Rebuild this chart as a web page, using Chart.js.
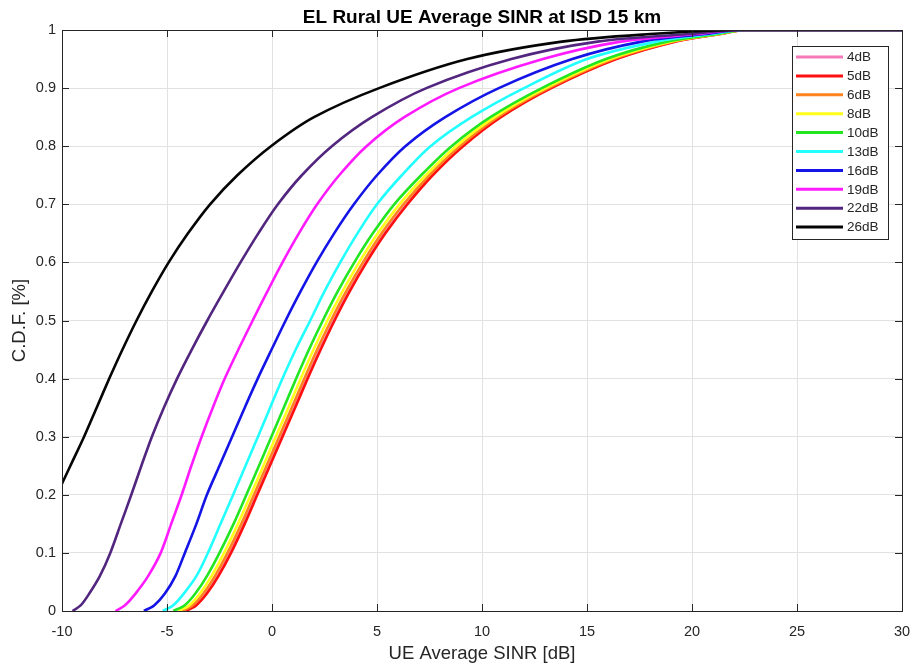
<!DOCTYPE html>
<html>
<head>
<meta charset="utf-8">
<title>EL Rural UE Average SINR at ISD 15 km</title>
<script src="https://cdn.jsdelivr.net/npm/chart.js@4.4.1/dist/chart.umd.min.js"></script>
<style>
  html, body { margin: 0; padding: 0; background: #fff; }
  #wrap { width: 913px; height: 665px; }
</style>
</head>
<body>
<div id="wrap"><canvas id="cdf" width="913" height="665"></canvas></div>
<script>
// CDF levels shared by every curve; each series gives the SINR (dB) reached at that level.
// The last entry keeps the curve at 1 out to the end of the axis.
const cdfLevels = [0, 0.01, 0.03, 0.06, 0.1, 0.15, 0.2, 0.25, 0.3, 0.35, 0.4, 0.45, 0.5,
                   0.55, 0.6, 0.65, 0.7, 0.75, 0.8, 0.85, 0.9, 0.95, 0.98, 0.993, 1, 1];

const sinr4dB  = [-4.15, -3.65, -3.15, -2.6, -2.0, -1.35, -0.75, -0.15, 0.45, 1.05, 1.65, 2.27, 2.93,
                  3.65, 4.45, 5.35, 6.4, 7.6, 9.05, 10.85, 13.25, 16.35, 19.15, 21.3, 22.5, 30];
const sinr5dB  = [-4.1, -3.6, -3.1, -2.55, -1.95, -1.3, -0.7, -0.1, 0.5, 1.1, 1.7, 2.32, 2.98,
                  3.7, 4.5, 5.4, 6.45, 7.65, 9.1, 10.9, 13.3, 16.4, 19.2, 21.35, 22.5, 30];
const sinr6dB  = [-4.28, -3.77, -3.27, -2.72, -2.12, -1.46, -0.86, -0.26, 0.34, 0.94, 1.54, 2.15, 2.81,
                  3.53, 4.33, 5.22, 6.26, 7.49, 8.94, 10.75, 13.17, 16.25, 19.08, 21.3, 22.5, 30];
const sinr8dB  = [-4.46, -3.93, -3.43, -2.88, -2.28, -1.62, -1.01, -0.41, 0.18, 0.78, 1.37, 1.98, 2.64,
                  3.36, 4.15, 5.04, 6.07, 7.32, 8.77, 10.6, 13.03, 16.1, 18.96, 21.25, 22.5, 30];
const sinr10dB = [-4.7, -4.15, -3.65, -3.1, -2.5, -1.83, -1.22, -0.62, -0.03, 0.56, 1.15, 1.76, 2.42,
                  3.13, 3.92, 4.8, 5.82, 7.1, 8.55, 10.4, 12.85, 15.9, 18.8, 21.2, 22.5, 30];
const sinr13dB = [-5.2, -4.7, -4.2, -3.6, -3.05, -2.45, -1.85, -1.26, -0.67, -0.09, 0.5, 1.13, 1.82,
                  2.5, 3.25, 4.07, 5.0, 6.18, 7.55, 9.5, 12.0, 15.0, 18.3, 20.9, 22.4, 30];
const sinr16dB = [-6.1, -5.6, -5.1, -4.6, -4.15, -3.6, -3.1, -2.5, -1.9, -1.3, -0.68, -0.02, 0.65,
                  1.36, 2.12, 2.96, 3.9, 5.0, 6.35, 8.25, 10.8, 14.3, 17.6, 20.6, 22.3, 30];
const sinr19dB = [-7.45, -7.0, -6.5, -5.9, -5.3, -4.8, -4.3, -3.84, -3.35, -2.82, -2.25, -1.6, -0.92,
                  -0.22, 0.5, 1.28, 2.15, 3.2, 4.5, 6.3, 8.9, 12.9, 16.6, 20.2, 22.2, 30];
const sinr22dB = [-9.5, -9.1, -8.7, -8.2, -7.7, -7.2, -6.7, -6.22, -5.72, -5.15, -4.52, -3.82, -3.08,
                  -2.3, -1.5, -0.65, 0.28, 1.42, 2.85, 4.75, 7.35, 11.4, 15.5, 19.8, 22.2, 30];
const sinr26dB = [null, null, null, null, null, null, -10.25, -9.6, -8.95, -8.35, -7.75, -7.12, -6.45,
                  -5.72, -4.92, -4.0, -2.95, -1.65, -0.05, 2.0, 5.1, 9.3, 13.8, 18.0, 22.0, 30];

const seriesLabels = ['4dB', '5dB', '6dB', '8dB', '10dB', '13dB', '16dB', '19dB', '22dB', '26dB'];
const seriesValues = [sinr4dB, sinr5dB, sinr6dB, sinr8dB, sinr10dB, sinr13dB, sinr16dB, sinr19dB, sinr22dB, sinr26dB];
const seriesColors = ['#f57ab9', '#ff1010', '#ff8420', '#ffff1a', '#22e622', '#22ffff', '#1414e6', '#ff1aff', '#52267f', '#050505'];

const xTicks = [-10, -5, 0, 5, 10, 15, 20, 25, 30];
const yTicks = [0, 0.1, 0.2, 0.3, 0.4, 0.5, 0.6, 0.7, 0.8, 0.9, 1];

const axisColor = '#262626';
const fontFamily = '"Liberation Sans", Arial, Helvetica, sans-serif';

// the 26 dB curve enters from the left edge, so its lowest levels are left out
const datasets = seriesLabels.map((label, i) => ({
  label,
  data: cdfLevels
    .map((p, k) => ({ x: seriesValues[i][k], y: p }))
    .filter(pt => pt.x !== null),
  borderColor: seriesColors[i],
  backgroundColor: seriesColors[i],
  borderWidth: 2.6,
  pointRadius: 0,
  tension: 0.3,
  clip: 0,
  order: seriesLabels.length - i   // later series sit on top
}));

// box around the plot with inward tick marks on all four sides
const boxTicks = {
  id: 'boxTicks',
  afterDatasetsDraw(chart) {
    const { ctx, chartArea: a, scales } = chart;
    const len = 7;
    ctx.save();
    ctx.strokeStyle = axisColor;
    ctx.lineWidth = 1;
    ctx.beginPath();
    xTicks.forEach(v => {
      const x = Math.round(scales.x.getPixelForValue(v)) + 0.5;
      ctx.moveTo(x, a.bottom); ctx.lineTo(x, a.bottom - len);
      ctx.moveTo(x, a.top); ctx.lineTo(x, a.top + len);
    });
    yTicks.forEach(v => {
      const y = Math.round(scales.y.getPixelForValue(v)) + 0.5;
      ctx.moveTo(a.left, y); ctx.lineTo(a.left + len, y);
      ctx.moveTo(a.right, y); ctx.lineTo(a.right - len, y);
    });
    ctx.stroke();
    ctx.strokeRect(Math.round(a.left) + 0.5, Math.round(a.top) + 0.5,
                   Math.round(a.right - a.left), Math.round(a.bottom - a.top));
    ctx.restore();
  }
};

// legend box in the upper right corner of the plot
const insetLegend = {
  id: 'insetLegend',
  afterDraw(chart) {
    const { ctx, chartArea: a } = chart;
    const w = 96, rowH = 18.9;
    const right = a.right - 14, top = a.top + 16;
    const left = right - w;
    const h = rowH * seriesLabels.length + 4;
    ctx.save();
    ctx.fillStyle = '#fff';
    ctx.fillRect(left, top, w, h);
    ctx.strokeStyle = axisColor;
    ctx.lineWidth = 1;
    ctx.strokeRect(Math.round(left) + 0.5, Math.round(top) + 0.5, w, Math.round(h));
    ctx.font = '13.5px ' + fontFamily;
    ctx.textBaseline = 'middle';
    chart.data.datasets.forEach((ds, i) => {
      const y = top + 11 + i * rowH;
      ctx.strokeStyle = ds.borderColor;
      ctx.lineWidth = 3;
      ctx.beginPath();
      ctx.moveTo(left + 4, y);
      ctx.lineTo(left + 51, y);
      ctx.stroke();
      ctx.fillStyle = axisColor;
      ctx.fillText(ds.label, left + 55, y + 0.5);
    });
    ctx.restore();
  }
};

new Chart(document.getElementById('cdf'), {
  type: 'line',
  data: { datasets },
  plugins: [boxTicks, insetLegend],
  options: {
    responsive: false,
    animation: false,
    events: [],
    layout: { padding: { left: 0, right: 11, top: 0, bottom: 0 } },
    plugins: {
      legend: { display: false },
      tooltip: { enabled: false },
      title: {
        display: true,
        fullSize: false,
        text: 'EL Rural UE Average SINR at ISD 15 km',
        color: '#000',
        font: { family: fontFamily, size: 19, weight: 'bold', lineHeight: 1 },
        padding: { top: 8, bottom: 3 }
      }
    },
    scales: {
      x: {
        type: 'linear',
        min: -10,
        max: 30,
        afterBuildTicks: s => { s.ticks = xTicks.map(v => ({ value: v })); },
        afterFit: s => { s.height = 54; s.paddingLeft = 0; s.paddingRight = 0; },
        grid: { color: '#e2e2e2', lineWidth: 1, drawTicks: false },
        border: { display: false },
        ticks: { color: axisColor, padding: 12, font: { family: fontFamily, size: 14.5 } },
        title: {
          display: true,
          text: 'UE Average SINR [dB]',
          color: axisColor,
          font: { family: fontFamily, size: 18.5 },
          padding: { top: 0, bottom: 0 }
        }
      },
      y: {
        type: 'linear',
        min: 0,
        max: 1,
        afterBuildTicks: s => { s.ticks = yTicks.map(v => ({ value: v })); },
        afterFit: s => { s.width = 62; },
        grid: { color: '#e2e2e2', lineWidth: 1, drawTicks: false },
        border: { display: false },
        ticks: {
          color: axisColor,
          padding: 6,
          font: { family: fontFamily, size: 14.5 },
          callback: v => String(+v.toFixed(1))
        },
        title: {
          display: true,
          text: 'C.D.F. [%]',
          color: axisColor,
          font: { family: fontFamily, size: 18.5 },
          padding: { top: 9, bottom: 0 }
        }
      }
    }
  }
});
</script>
</body>
</html>
